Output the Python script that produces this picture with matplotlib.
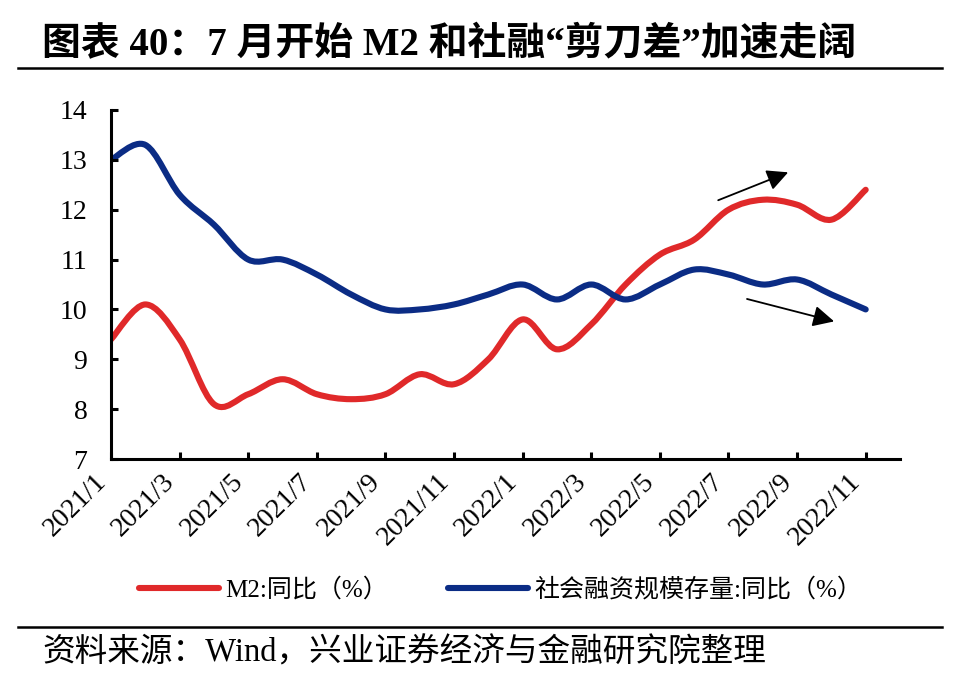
import numpy as np
import matplotlib
matplotlib.use("Agg")
import matplotlib.pyplot as plt
from matplotlib.path import Path
from matplotlib.patches import PathPatch
from matplotlib.lines import Line2D

plt.rcParams['font.family'] = ['Liberation Serif', 'Noto Sans CJK SC']

# Données mensuelles 2021/1 - 2022/11
mois = ["2021/1", "2021/2", "2021/3", "2021/4", "2021/5", "2021/6", "2021/7", "2021/8",
        "2021/9", "2021/10", "2021/11", "2021/12", "2022/1", "2022/2", "2022/3", "2022/4",
        "2022/5", "2022/6", "2022/7", "2022/8", "2022/9", "2022/10", "2022/11"]
m2 = [9.4, 10.1, 9.4, 8.1, 8.3, 8.6, 8.3, 8.2, 8.3, 8.7, 8.5, 9.0,
      9.8, 9.2, 9.7, 10.5, 11.1, 11.4, 12.0, 12.2, 12.1, 11.8, 12.4]
shrz = [13.0, 13.3, 12.3, 11.7, 11.0, 11.0, 10.7, 10.3, 10.0, 10.0, 10.1, 10.3,
        10.5, 10.2, 10.5, 10.2, 10.5, 10.8, 10.7, 10.5, 10.6, 10.3, 10.0]
noms = ["M2:同比（%）", "社会融资规模存量:同比（%）"]
couleurs = ["#E0292A", "#0B2C85"]

titre = "图表 40：7 月开始 M2 和社融“剪刀差”加速走阔"
source = "资料来源：Wind，兴业证券经济与金融研究院整理"


def courbe_lisse(x, y):
    # courbe lissée style Excel (Catmull-Rom -> Bézier)
    x = np.asarray(x, float)
    y = np.asarray(y, float)
    pts = np.column_stack([x, y])
    verts = [pts[0]]
    codes = [Path.MOVETO]
    n = len(pts)
    for i in range(n - 1):
        p0 = pts[i - 1] if i > 0 else pts[i]
        p1 = pts[i]
        p2 = pts[i + 1]
        p3 = pts[i + 2] if i + 2 < n else pts[i + 1]
        c1 = p1 + (p2 - p0) / 6.0
        c2 = p2 - (p3 - p1) / 6.0
        verts += [c1, c2, p2]
        codes += [Path.CURVE4] * 3
    return Path(verts, codes)


fig = plt.figure(figsize=(9.54, 6.94), dpi=100)
ax = fig.add_axes([0.1164, 0.3386, 0.8270, 0.5029])

x = np.arange(len(mois))
for serie, c in zip([m2, shrz], couleurs):
    patch = PathPatch(courbe_lisse(x, serie), facecolor='none', edgecolor=c,
                      lw=4.4, capstyle='round', joinstyle='round')
    ax.add_patch(patch)

ax.set_xlim(0, 23)
ax.set_ylim(7, 14)
ax.set_yticks(range(7, 15))
ax.set_xticks(x[::2])
ax.set_xticklabels(mois[::2], rotation=45, ha='right', va='top')

for s in ['top', 'right']:
    ax.spines[s].set_visible(False)
for s in ['left', 'bottom']:
    ax.spines[s].set_linewidth(2.2)
ax.tick_params(axis='both', direction='in', length=5, width=2.2, labelsize=20)
ax.tick_params(axis='y', pad=17)
ax.tick_params(axis='x', pad=7)

# flèches
ax.annotate("", xy=(19.74, 12.75), xytext=(17.7, 12.19),
            arrowprops=dict(arrowstyle='-|>', color='black', lw=1.3,
                            mutation_scale=32, shrinkA=0, shrinkB=0))
ax.annotate("", xy=(21.08, 9.76), xytext=(18.54, 10.21),
            arrowprops=dict(arrowstyle='-|>', color='black', lw=1.3,
                            mutation_scale=32, shrinkA=0, shrinkB=0))

poignees = [Line2D([], [], color=c, lw=4.4, solid_capstyle='round') for c in couleurs]
fig.legend(poignees, noms, loc='center', bbox_to_anchor=(0.525, 0.15), ncol=2,
           frameon=False, fontsize=18, handlelength=3.2, handletextpad=0.25,
           columnspacing=2.4)

fig.text(0.044, 0.935, titre, fontsize=28, fontweight='bold', va='center', ha='left')
fig.add_artist(Line2D([0.019, 0.987], [0.902, 0.902], color='black', lw=1.8))
fig.add_artist(Line2D([0.019, 0.987], [0.0965, 0.0965], color='black', lw=1.8))
fig.text(0.044, 0.06, source, fontsize=23.5, va='center', ha='left')

fig.savefig("out.png", dpi=100)
